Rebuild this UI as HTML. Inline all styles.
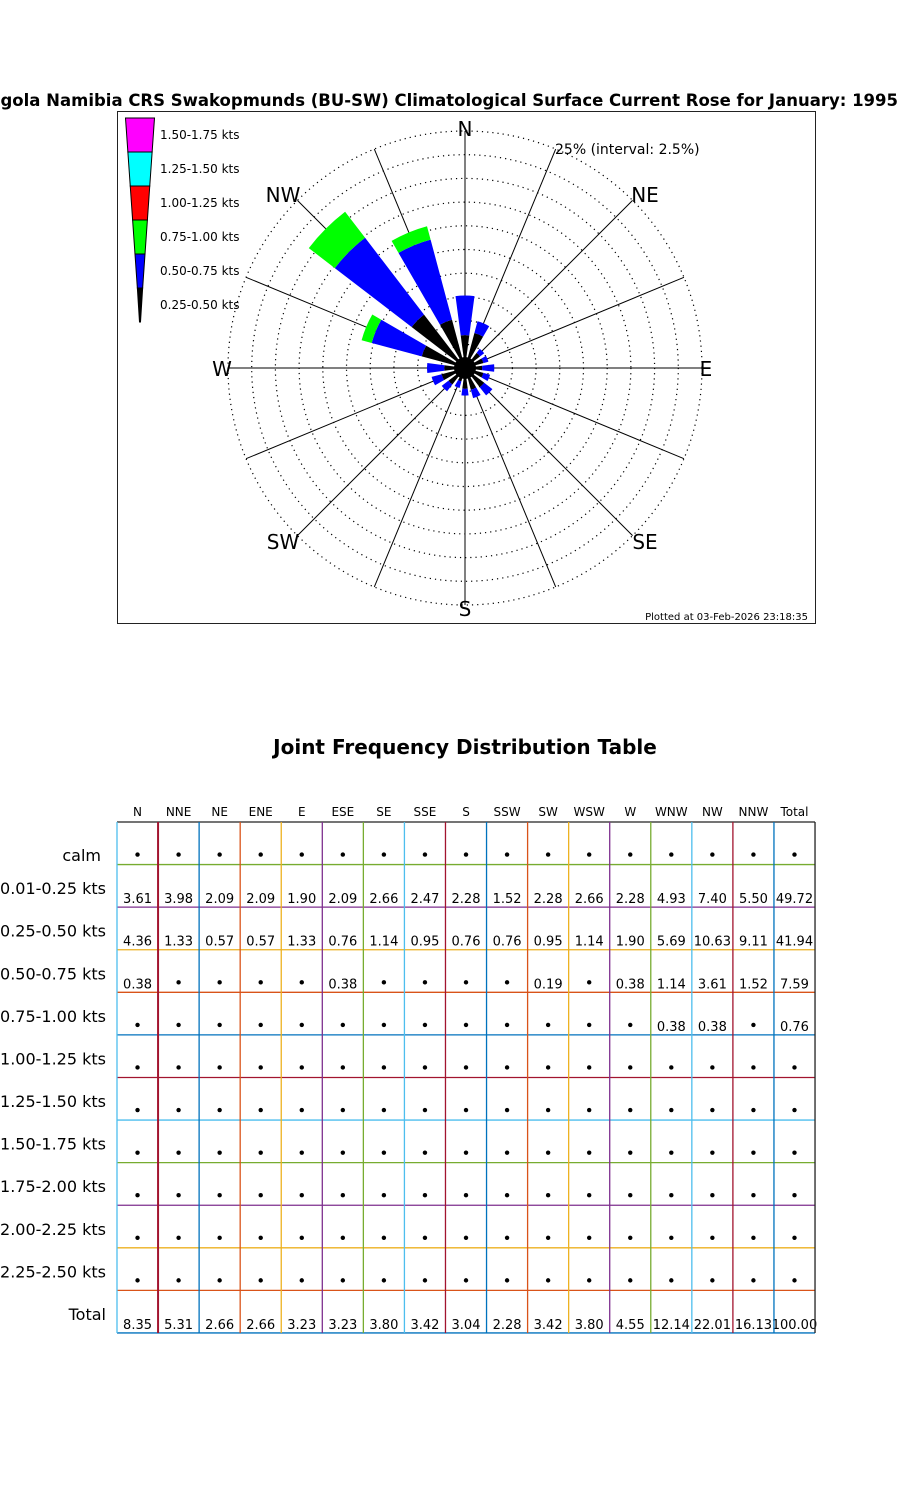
<!DOCTYPE html>
<html><head><meta charset="utf-8"><style>
html,body{margin:0;padding:0;background:#fff;}
svg{display:block;font-family:"DejaVu Sans","Liberation Sans",sans-serif;}
</style></head><body>
<svg id="s" width="900" height="1500" xmlns="http://www.w3.org/2000/svg">
<rect width="900" height="1500" fill="#fff"/>
<text x="898" y="106" text-anchor="end" font-size="16.5" font-weight="bold">Angola Namibia CRS Swakopmunds (BU-SW) Climatological Surface Current Rose for January: 1995</text>
<rect x="117.5" y="111.5" width="698" height="512" fill="none" stroke="#222" stroke-width="1"/>
<g id="rose"></g>
<g font-size="20">
<text x="465" y="136" text-anchor="middle">N</text>
<text x="645" y="202" text-anchor="middle">NE</text>
<text x="706" y="376" text-anchor="middle">E</text>
<text x="645" y="549" text-anchor="middle">SE</text>
<text x="465" y="616" text-anchor="middle">S</text>
<text x="283" y="549" text-anchor="middle">SW</text>
<text x="222" y="376" text-anchor="middle">W</text>
<text x="283" y="202" text-anchor="middle">NW</text>
</g>
<text x="555" y="154" font-size="14">25% (interval: 2.5%)</text>
<text x="808" y="620" font-size="10" text-anchor="end">Plotted at 03-Feb-2026 23:18:35</text>
<g id="leg" stroke="#000" stroke-width="1"></g>
<g font-size="12">
<text x="160" y="139">1.50-1.75 kts</text>
<text x="160" y="173">1.25-1.50 kts</text>
<text x="160" y="207">1.00-1.25 kts</text>
<text x="160" y="241">0.75-1.00 kts</text>
<text x="160" y="275">0.50-0.75 kts</text>
<text x="160" y="309">0.25-0.50 kts</text>
</g>
<text x="465" y="754" text-anchor="middle" font-size="20" font-weight="bold">Joint Frequency Distribution Table</text>
<g id="tab"></g>
</svg>
<script>
(function(){
var NS="http://www.w3.org/2000/svg";
function el(p,t,a,txt){var e=document.createElementNS(NS,t);for(var k in a)e.setAttribute(k,a[k]);if(txt!==undefined)e.textContent=txt;p.appendChild(e);return e;}
var cx=465,cy=368,R=237,sc=9.1;
var rose=document.getElementById('rose');
for(var i=1;i<=10;i++){el(rose,'circle',{cx:cx,cy:cy,r:R*i/10,fill:'none',stroke:'#000','stroke-width':1.2,'stroke-dasharray':'1.2 4'});}
for(var i=0;i<16;i++){var a=i*22.5*Math.PI/180;el(rose,'line',{x1:cx,y1:cy,x2:cx+R*Math.sin(a),y2:cy-R*Math.cos(a),stroke:'#000','stroke-width':1});}
var data=[[3.61,4.36],[3.98,1.33],[2.09,.57],[2.09,.57],[1.90,1.33],[2.09,.76],[2.66,1.14],[2.47,.95],[2.28,.76],[1.52,.76],[2.28,.95],[2.66,1.14],[2.28,1.90],[4.93,5.69,1.14],[7.40,10.63,3.61],[5.50,9.11,1.52]];
var cols=['#000','#0000ff','#00ff00','#ff0000'];
function pt(r,d){var a=d*Math.PI/180;return (cx+r*Math.sin(a)).toFixed(1)+','+(cy-r*Math.cos(a)).toFixed(1);}
for(var i=0;i<16;i++){var c=0,th=i*22.5,h=7.5;for(var j=0;j<data[i].length;j++){var r0=c*sc;c+=data[i][j];var r1=c*sc;
var p='M'+pt(r0,th-h)+' L'+pt(r1,th-h)+' A'+r1+','+r1+' 0 0 1 '+pt(r1,th+h)+' L'+pt(r0,th+h)+(r0>0?' A'+r0+','+r0+' 0 0 0 '+pt(r0,th-h):'')+' Z';
el(rose,'path',{d:p,fill:cols[j]});}}
el(rose,'circle',{cx:cx,cy:cy,r:11,fill:'#000'});
var leg=document.getElementById('leg');var lc=['#ff00ff','#00ffff','#ff0000','#00ff00','#0000ff','#000'];
var tp=118,bt=322,wt=29,lx=140;
for(var i=0;i<6;i++){var ya=tp+i*34,yb=tp+(i+1)*34;var w0=wt*(1-(ya-tp)/(bt-tp+4))/2,w1=wt*(1-(yb-tp)/(bt-tp+4))/2;if(i==5){w1=0.5;}
el(leg,'path',{d:'M'+(lx-w0)+','+ya+' L'+(lx+w0)+','+ya+' L'+(lx+w1)+','+yb+' L'+(lx-w1)+','+yb+' Z',fill:lc[i]});}
var tab=document.getElementById('tab');
var heads=['N','NNE','NE','ENE','E','ESE','SE','SSE','S','SSW','SW','WSW','W','WNW','NW','NNW','Total'];
var x0=117,cw=41.06,y0t=822,rh=42.58;
var rows=[
['calm',[]],
['0.01-0.25 kts',['3.61','3.98','2.09','2.09','1.90','2.09','2.66','2.47','2.28','1.52','2.28','2.66','2.28','4.93','7.40','5.50','49.72']],
['0.25-0.50 kts',['4.36','1.33','0.57','0.57','1.33','0.76','1.14','0.95','0.76','0.76','0.95','1.14','1.90','5.69','10.63','9.11','41.94']],
['0.50-0.75 kts',['0.38','','','','','0.38','','','','','0.19','','0.38','1.14','3.61','1.52','7.59']],
['0.75-1.00 kts',['','','','','','','','','','','','','','0.38','0.38','','0.76']],
['1.00-1.25 kts',[]],['1.25-1.50 kts',[]],['1.50-1.75 kts',[]],['1.75-2.00 kts',[]],['2.00-2.25 kts',[]],['2.25-2.50 kts',[]],
['Total',['8.35','5.31','2.66','2.66','3.23','3.23','3.80','3.42','3.04','2.28','3.42','3.80','4.55','12.14','22.01','16.13','100.00']]];
var C=['#0072BD','#D95319','#EDB120','#7E2F8E','#77AC30','#4DBEEE','#A2142F'];
for(var i=0;i<17;i++)el(tab,'text',{x:x0+cw*(i+0.5),y:816,'text-anchor':'middle','font-size':12},heads[i]);
for(var j=0;j<12;j++){var yb2=y0t+rh*(j+1);
el(tab,'text',{x:j==0?101:106,y:j==0?861:yb2-13,'text-anchor':'end','font-size':16},rows[j][0]);
for(var i=0;i<17;i++){var v=rows[j][1][i];var xc=x0+cw*(i+0.5);
if(v)el(tab,'text',{x:xc,y:yb2-4,'text-anchor':'middle','font-size':13},v);else el(tab,'circle',{cx:xc,cy:yb2-10,r:2.2,fill:'#000'});}}
for(var j=1;j<=12;j++){var y=y0t+rh*j;var col=C[((4-(j-1))%7+7)%7];el(tab,'line',{x1:x0,y1:y,x2:x0+cw*17,y2:y,stroke:col,'stroke-width':1.3});}
el(tab,'line',{x1:x0,y1:y0t,x2:x0+cw*17,y2:y0t,stroke:'#222','stroke-width':1.3});
for(var i=0;i<=17;i++){var x=x0+cw*i;var col=i==0?'#4DBEEE':(i==17?'#222':C[((i-2)%7+7)%7]);el(tab,'line',{x1:x,y1:y0t,x2:x,y2:y0t+rh*12,stroke:col,'stroke-width':i==1?2:1.3});}
})();
</script>
</body></html>
